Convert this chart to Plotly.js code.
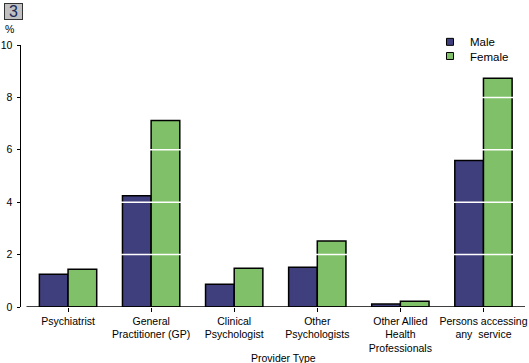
<!DOCTYPE html>
<html>
<head>
<meta charset="utf-8">
<script src="https://cdn.plot.ly/plotly-3.0.1.min.js"></script>
<style>html,body{margin:0;padding:0;background:#fff;}#chart{width:529px;height:363px;}</style>
</head>
<body>
<div id="chart"></div>
<script>
const categories = ["Psychiatrist", "General<br>Practitioner (GP)", "Clinical<br>Psychologist", "Other<br>Psychologists", "Other Allied<br>Health<br>Professionals", "Persons accessing<br>any  service"];
const maleValues = [1.25, 4.25, 0.87, 1.52, 0.11, 5.59];
const femaleValues = [1.44, 7.12, 1.48, 2.52, 0.22, 8.73];
const yTickValues = [0, 2, 4, 6, 8, 10];
const gridValues = [2, 4, 6, 8];

const maleColor = "#403f7e";
const femaleColor = "#80c068";
const fontFamily = "Liberation Sans, Arial, sans-serif";
const xIdx = categories.map((c, i) => i);

const traces = [
  {type: "bar", x: xIdx, y: maleValues, name: "Male", showlegend: false,
   marker: {color: maleColor, line: {color: "#000", width: 1.5}}, hoverinfo: "y"},
  {type: "bar", x: xIdx, y: femaleValues, name: "Female", showlegend: false,
   marker: {color: femaleColor, line: {color: "#000", width: 1.5}}, hoverinfo: "y"},
  {type: "scatter", mode: "markers", x: [null], y: [null], name: "Male", legend: "legend",
   marker: {symbol: "square", size: 7, color: maleColor, line: {color: "#000", width: 1}}},
  {type: "scatter", mode: "markers", x: [null], y: [null], name: "Female", legend: "legend2",
   marker: {symbol: "square", size: 7, color: femaleColor, line: {color: "#000", width: 1}}}
];

const shapes = gridValues.map(v => ({
  type: "line", xref: "x", yref: "y", x0: -0.5, x1: 5.5, y0: v, y1: v,
  line: {color: "#ffffff", width: 1.5}, layer: "above"
}));
shapes.push({type: "line", xref: "x", yref: "y", x0: -0.5, x1: 5.5, y0: 0, y1: 0,
  line: {color: "#000", width: 1.5}, layer: "above"});

const legendFont = {family: fontFamily, size: 11.5, color: "#000"};

const layout = {
  width: 529, height: 363,
  margin: {l: 21, r: 4, t: 45, b: 56},
  paper_bgcolor: "#fff", plot_bgcolor: "#fff",
  font: {family: fontFamily, size: 10, color: "#000"},
  barmode: "group", bargap: 0.31, bargroupgap: 0,
  xaxis: {
    tickmode: "array", tickvals: xIdx, ticktext: categories,
    range: [-0.5 - 5.5/83, 5.5], showline: false, zeroline: false, showgrid: false,
    ticks: "outside", ticklen: 4, tickwidth: 1, tickcolor: "#000",
    tickfont: {family: fontFamily, size: 10.5, color: "#000"}, fixedrange: true
  },
  yaxis: {
    range: [0, 10], tickvals: yTickValues, showline: true, linecolor: "#000", linewidth: 1.5,
    zeroline: false, showgrid: false, ticks: "outside", ticklen: 3, tickwidth: 1, tickcolor: "#000",
    tickfont: {family: fontFamily, size: 10.5, color: "#000"}, ticklabelstandoff: 2, fixedrange: true
  },
  legend: {x: 0.8115, y: 1.012, xanchor: "left", yanchor: "middle", bgcolor: "rgba(0,0,0,0)",
    font: legendFont, itemwidth: 30},
  legend2: {x: 0.8115, y: 0.958, xanchor: "left", yanchor: "middle", bgcolor: "rgba(0,0,0,0)",
    font: legendFont, itemwidth: 30},
  shapes: shapes,
  annotations: [
    {text: "%", xref: "paper", yref: "paper", x: -0.01, y: 1.03, xanchor: "right", yanchor: "bottom",
     showarrow: false, font: {family: fontFamily, size: 10.5, color: "#000"}},
    {text: "Provider Type", xref: "paper", yref: "paper", x: 0.52, y: -0.165, xanchor: "center", yanchor: "top",
     showarrow: false, font: {family: fontFamily, size: 10.5, color: "#000"}},
    {text: "3", xref: "paper", yref: "paper", x: -0.034, y: 1.16, xanchor: "left", yanchor: "top",
     showarrow: false, bgcolor: "#c0c0c0", bordercolor: "#333", borderwidth: 1, borderpad: 0,
     width: 17, height: 15, font: {family: fontFamily, size: 16, color: "#1a2a5a"}}
  ]
};

Plotly.newPlot("chart", traces, layout, {displayModeBar: false, staticPlot: true});
</script>
</body>
</html>
